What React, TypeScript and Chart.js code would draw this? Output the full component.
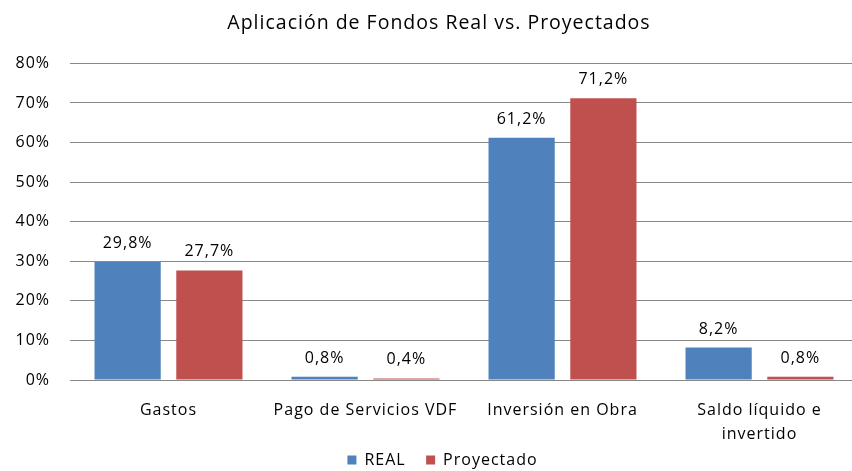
import React, { useEffect, useRef } from "react";
import { Chart, registerables } from "chart.js";

Chart.register(...registerables);

const categories: (string | string[])[] = [
  "Gastos",
  "Pago de Servicios VDF",
  "Inversión en Obra",
  ["Saldo líquido e", "invertido"],
];
const seriesNames = ["REAL", "Proyectado"];
const realValues = [29.8, 0.8, 61.2, 8.2];
const proyectadoValues = [27.7, 0.4, 71.2, 0.8];
const yTicks = [0, 10, 20, 30, 40, 50, 60, 70, 80];

const FONT = "'Open Sans', 'Noto Sans', sans-serif";
const fmt = (v: number) => v.toFixed(1).replace(".", ",") + "%";

const dataLabels = {
  id: "dataLabels",
  afterDatasetsDraw(chart: any) {
    const ctx = chart.ctx;
    ctx.save();
    ctx.font = `16px ${FONT}`;
    ctx.fillStyle = "#000";
    ctx.textAlign = "center";
    ctx.textBaseline = "alphabetic";
    chart.data.datasets.forEach((ds: any, di: number) => {
      const meta = chart.getDatasetMeta(di);
      meta.data.forEach((bar: any, i: number) => {
        ctx.fillText(fmt(ds.data[i]), bar.x, bar.y - 14);
      });
    });
    ctx.restore();
  },
};

// shift title and legend horizontally to match the reference centering
const shiftBoxes = {
  id: "shiftBoxes",
  afterLayout(chart: any) {
    if (chart.titleBlock) {
      chart.titleBlock.left += 6;
      chart.titleBlock.right += 6;
    }
    if (chart.legend) {
      chart.legend.left += 1;
      chart.legend.right += 1;
    }
  },
  beforeDraw(chart: any) {
    (chart.ctx as any).letterSpacing = "1px";
  },
};

export default function App() {
  const ref = useRef<HTMLCanvasElement | null>(null);
  useEffect(() => {
    if (!ref.current) return;
    const chart = new Chart(ref.current, {
      type: "bar",
      data: {
        labels: categories,
        datasets: [
          {
            label: seriesNames[0],
            data: realValues,
            backgroundColor: "#4F81BD",
            categoryPercentage: 0.83,
            barPercentage: 0.81,
          },
          {
            label: seriesNames[1],
            data: proyectadoValues,
            backgroundColor: "#C0504D",
            categoryPercentage: 0.83,
            barPercentage: 0.81,
          },
        ],
      },
      options: {
        animation: false,
        responsive: false,
        maintainAspectRatio: false,
        layout: { padding: { left: 8, right: 0, top: 0, bottom: -7 } },
        plugins: {
          title: {
            display: true,
            text: "Aplicación de Fondos Real vs. Proyectados",
            color: "#000",
            font: { family: FONT, size: 19.5, weight: "normal" },
            padding: { top: 12, bottom: 28 },
          },
          legend: {
            position: "bottom",
            labels: {
              color: "#000",
              font: { family: FONT, size: 16 },
              boxWidth: 9,
              boxHeight: 9,
              padding: 5,
              generateLabels: (chart: any) => {
                const items = Chart.defaults.plugins.legend.labels.generateLabels(chart);
                return items.map((it: any, i: number) => ({
                  ...it,
                  lineWidth: 0,
                  text: i === 0 ? it.text + "   " : it.text,
                }));
              },
            },
          },
          tooltip: { enabled: false },
        },
        scales: {
          x: {
            afterFit: (s: any) => {
              s.height = 67;
            },
            grid: { display: false, drawTicks: false },
            border: { display: false },
            ticks: {
              color: "#000",
              font: { family: FONT, size: 16, lineHeight: 1.5 },
              maxRotation: 0,
              autoSkip: false,
              padding: 18,
            },
          },
          y: {
            min: 0,
            max: 80,
            afterFit: (s: any) => {
              s.width = 62;
            },
            afterBuildTicks: (s: any) => {
              s.ticks = yTicks.map((v) => ({ value: v }));
            },
            grid: { color: "#888888", drawTicks: false, lineWidth: 1 },
            border: { display: false },
            ticks: {
              color: "#000",
              font: { family: FONT, size: 16 },
              padding: 20,
              callback: (v: any) => v + "%",
            },
          },
        },
      },
      plugins: [dataLabels, shiftBoxes],
    });
    return () => chart.destroy();
  }, []);
  return (
    <div
      style={{
        position: "fixed",
        left: 0,
        top: 0,
        width: 852,
        height: 471,
        overflow: "hidden",
        background: "#fff",
      }}
    >
      <canvas ref={ref} width={858} height={471} style={{ display: "block" }} />
    </div>
  );
}
